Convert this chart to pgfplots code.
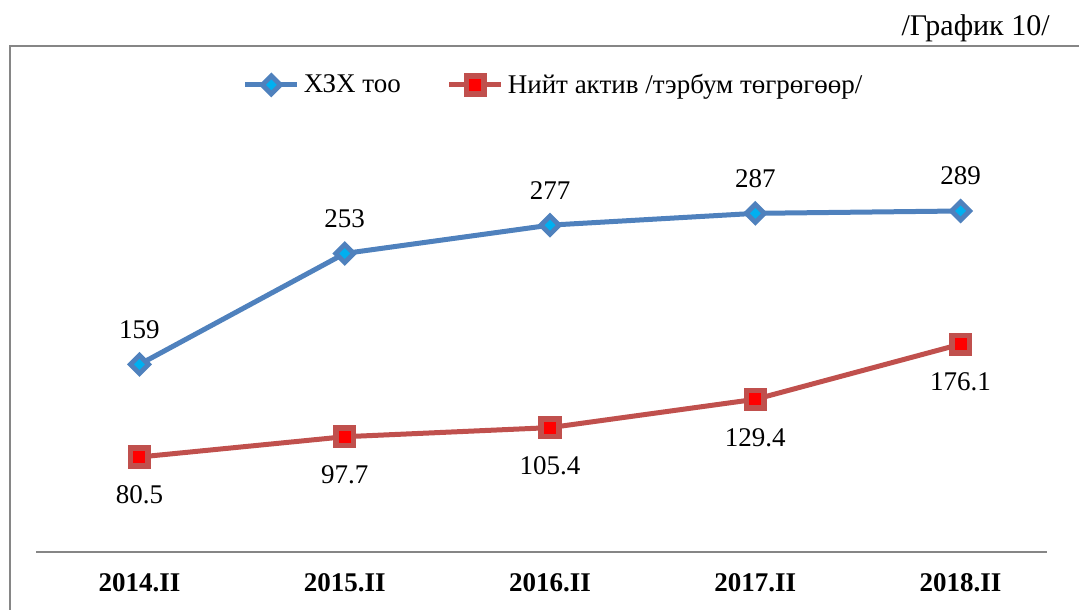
\documentclass[border=0pt]{standalone}
\usepackage{pgfplots}
\pgfplotsset{compat=1.18}
\usepackage{fontspec}
\setmainfont{Liberation Serif}
\definecolor{sblue}{HTML}{4F81BD}
\definecolor{sred}{HTML}{C0504D}
\definecolor{lblue}{HTML}{00B0F0}
\definecolor{axgray}{HTML}{868686}
\begin{document}
\begin{tikzpicture}[every node/.style={font=\fontsize{13.5pt}{16pt}\selectfont}]
\begin{scope}[x=0.5pt,y=-0.5pt]
\useasboundingbox (0,0) rectangle (1079,609);
\draw[axgray, line width=1pt] (10,700) -- (10,46) -- (1200,46);
\node[anchor=east, inner sep=0pt, font=\fontsize{15pt}{18pt}\selectfont] at (1050,28) {/График 10/};
\end{scope}
\begin{axis}[
  at={(18pt,-276pt)}, anchor=south west,
  scale only axis, width=505.5pt, height=206.5pt,
  xmin=-0.504, xmax=4.421, ymin=0, ymax=350,
  axis x line=bottom, axis y line=none,
  axis line style={axgray, line width=1pt, -},
  xtick={0,1,2,3,4},
  xticklabels={\textbf{2014.II},\textbf{2015.II},\textbf{2016.II},\textbf{2017.II},\textbf{2018.II}},
  major tick length=0pt,
  xticklabel style={anchor=center, yshift=-15.5pt},
  /pgf/number format/assume math mode=true,
  nodes near coords,
  every node near coord/.append style={anchor=center, font=\fontsize{13.5pt}{16pt}\selectfont, text=black},
  legend columns=-1,
  legend style={draw=none, fill=none, at={(0.513,1.131)}, anchor=center,
    font=\fontsize{13.5pt}{16pt}\selectfont,
    /tikz/every even column/.append style={column sep=21pt},
    inner sep=0pt},
  legend image code/.code={\draw[mark repeat=2,mark phase=2] plot coordinates {(0pt,0pt) (13pt,0pt) (26pt,0pt)};},
  clip=false,
]
\addplot[sblue, line width=2.5pt, mark=square*, mark size=3.2pt,
  mark options={rotate=45, draw=sblue, fill=lblue, line width=2.4pt},
  every node near coord/.append style={yshift=17.5pt}]
  coordinates {(0,159) (1,253) (2,277) (3,287) (4,289)};
\addlegendentry{ХЗХ тоо}
\addplot[sred, line width=2.5pt, mark=square*, mark size=4.4pt,
  mark options={draw=sred, fill=red, line width=2.8pt, rounded corners=1pt},
  every node near coord/.append style={yshift=-19pt}]
  coordinates {(0,80.5) (1,97.7) (2,105.4) (3,129.4) (4,176.1)};
\addlegendentry{Нийт актив /тэрбум төгрөгөөр/}
\end{axis}
\end{tikzpicture}
\end{document}
